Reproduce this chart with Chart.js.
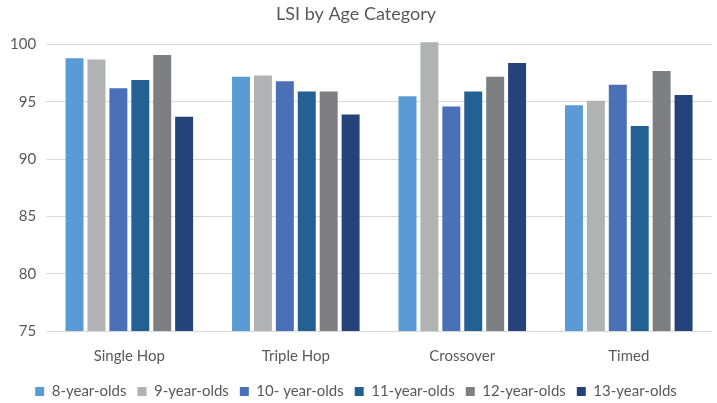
<!DOCTYPE html>
<html>
<head>
<meta charset="utf-8">
<script src="https://cdn.jsdelivr.net/npm/chart.js@4/dist/chart.umd.min.js"></script>
<style>
  html, body { margin: 0; padding: 0; background: #fff; }
  #wrap { width: 717px; height: 403px; }
</style>
</head>
<body>
<div id="wrap"><canvas id="lsiChart"></canvas></div>
<script>
// categories and series
var tests = ['Single Hop', 'Triple Hop', 'Crossover', 'Timed'];
var age8 = [98.8, 97.2, 95.5, 94.7];
var age9 = [98.7, 97.3, 100.2, 95.1];
var age10 = [96.2, 96.8, 94.6, 96.5];
var age11 = [96.9, 95.9, 95.9, 92.9];
var age12 = [99.1, 95.9, 97.2, 97.7];
var age13 = [93.7, 93.9, 98.4, 95.6];
var yTicks = [75, 80, 85, 90, 95, 100];

var labelColor = '#595959';
var fontName = 'Lato, "Open Sans", sans-serif';

function series(label, data, color) {
    return {
        label: label,
        data: data,
        backgroundColor: color,
        borderWidth: 0,
        // let the tallest bar poke above the 100 line, like the original
        clip: { left: 0, right: 0, bottom: 0, top: 10 }
    };
}

var lsiChart = new Chart(document.getElementById('lsiChart').getContext('2d'), {
    type: 'bar',
    data: {
        labels: tests,
        datasets: [
            series('8-year-olds', age8, '#5B9BD5'),
            series('9-year-olds', age9, '#B1B2B4'),
            series('10- year-olds', age10, '#4A71B8'),
            series('11-year-olds', age11, '#236094'),
            series('12-year-olds', age12, '#7E7F83'),
            series('13-year-olds', age13, '#24437A')
        ]
    },
    options: {
        responsive: true,
        maintainAspectRatio: false,
        animation: false,
        layout: {
            padding: { left: 0, right: 5, top: 0, bottom: -6 }
        },
        datasets: {
            bar: {
                categoryPercentage: 0.79,
                barPercentage: 0.82
            }
        },
        plugins: {
            title: {
                display: true,
                text: 'LSI by Age Category',
                color: labelColor,
                font: { family: fontName, size: 18, weight: 'normal' },
                padding: { top: 3, bottom: 20 }
            },
            legend: {
                position: 'bottom',
                labels: {
                    color: labelColor,
                    font: { family: fontName, size: 15 },
                    boxWidth: 9,
                    boxHeight: 9,
                    padding: 11
                }
            },
            tooltip: { enabled: false }
        },
        scales: {
            x: {
                grid: { display: false },
                border: { display: false },
                ticks: {
                    color: labelColor,
                    font: { family: fontName, size: 15 },
                    padding: 8
                }
            },
            y: {
                min: 75,
                max: 100,
                afterBuildTicks: function (axis) {
                    axis.ticks = yTicks.map(function (v) { return { value: v }; });
                },
                grid: { color: '#D9D9D9', drawTicks: false },
                border: { display: false },
                ticks: {
                    color: labelColor,
                    font: { family: fontName, size: 15 },
                    padding: 10
                }
            }
        }
    }
});
</script>
</body>
</html>
